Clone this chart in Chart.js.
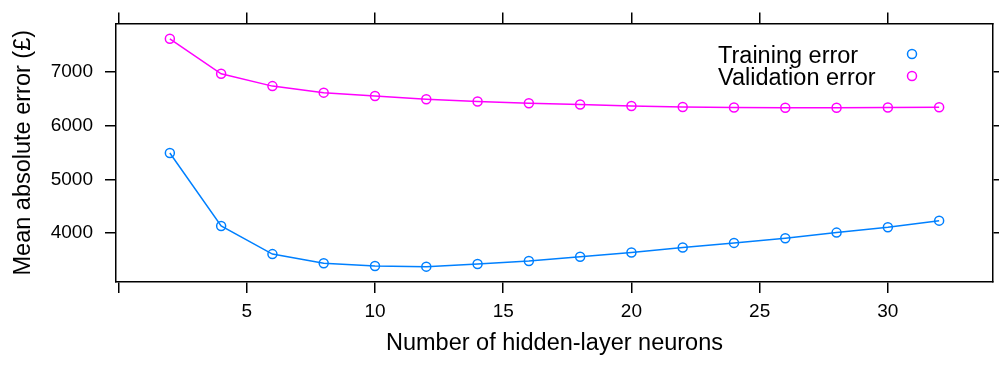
<!DOCTYPE html>
<html>
<head>
<meta charset="utf-8">
<script src="https://cdn.jsdelivr.net/npm/chart.js@4"></script>
<style>
  html, body { margin: 0; padding: 0; background: #fff; }
  #wrap { width: 999px; height: 365px; position: relative; }
</style>
</head>
<body>
<div id="wrap"><canvas id="errChart"></canvas></div>
<script>
const neurons = [2, 4, 6, 8, 10, 12, 14, 16, 18, 20, 22, 24, 26, 28, 30, 32];
const trainingError = [5490, 4134, 3613, 3442, 3392, 3380, 3429, 3484, 3564, 3644, 3736, 3821, 3908, 4012, 4110, 4234];
const validationError = [7609, 6959, 6731, 6610, 6547, 6486, 6444, 6413, 6389, 6363, 6344, 6333, 6330, 6330, 6333, 6339];
const xTicks = [0, 5, 10, 15, 20, 25, 30];
const yTicks = [4000, 5000, 6000, 7000];
const seriesLabels = ["Training error", "Validation error"];
const seriesColors = ["#0080ff", "#ff00ff"];

const FONT = "'Liberation Sans', Arial, sans-serif";

const toPoints = (vals) => vals.map((v, i) => ({ x: neurons[i], y: v }));

// lattice style key: text on the left, symbol on the right
const keyPlugin = {
    id: "latticeKey",
    afterDraw(chart) {
        const ctx = chart.ctx;
        ctx.save();
        ctx.font = `23.5px ${FONT}`;
        ctx.textBaseline = "alphabetic";
        ctx.textAlign = "left";
        chart.data.datasets.forEach((ds, i) => {
            const y = 63 + i * 22;
            ctx.fillStyle = "#000";
            ctx.fillText(ds.label, 718, y);
            ctx.beginPath();
            ctx.arc(912, y - 9, 4.5, 0, Math.PI * 2);
            ctx.strokeStyle = ds.borderColor;
            ctx.lineWidth = 1.5;
            ctx.stroke();
        });
        ctx.restore();
    }
};

const axisGrid = { drawOnChartArea: false, drawTicks: true, tickLength: 11, color: "#000", lineWidth: 1.5 };
const axisBorder = { display: true, color: "#000", width: 1.5 };

new Chart(document.getElementById("errChart").getContext("2d"), {
    type: "line",
    data: {
        datasets: [trainingError, validationError].map((vals, i) => ({
            label: seriesLabels[i],
            data: toPoints(vals),
            borderColor: seriesColors[i],
            backgroundColor: "transparent",
            borderWidth: 1.5,
            pointRadius: 4.5,
            pointBorderWidth: 1.5,
            pointBackgroundColor: "transparent",
            pointBorderColor: seriesColors[i],
            tension: 0
        }))
    },
    options: {
        responsive: true,
        maintainAspectRatio: false,
        animation: false,
        layout: { padding: 0 },
        plugins: { legend: { display: false }, tooltip: { enabled: false } },
        scales: {
            x: {
                type: "linear",
                position: "bottom",
                min: -0.1,
                max: 34.1,
                afterBuildTicks: (s) => { s.ticks = xTicks.map((v) => ({ value: v })); },
                afterFit: (s) => { s.height = 83; },
                ticks: {
                    color: "#000",
                    font: { family: FONT, size: 19 },
                    padding: 7,
                    maxRotation: 0,
                    callback: (v) => (v === 0 ? "" : String(v))
                },
                grid: axisGrid,
                border: axisBorder,
                title: {
                    display: true,
                    text: "Number of hidden-layer neurons",
                    color: "#000",
                    font: { family: FONT, size: 23.5 },
                    padding: { top: 0, bottom: 7 }
                }
            },
            x2: {
                type: "linear",
                position: "top",
                min: -0.1,
                max: 34.1,
                afterBuildTicks: (s) => { s.ticks = xTicks.map((v) => ({ value: v })); },
                afterFit: (s) => { s.height = 21; },
                ticks: { display: false },
                grid: axisGrid,
                border: axisBorder
            },
            y: {
                type: "linear",
                position: "left",
                min: 3095,
                max: 7895,
                afterBuildTicks: (s) => { s.ticks = yTicks.map((v) => ({ value: v })); },
                afterFit: (s) => { s.width = 116; },
                ticks: {
                    color: "#000",
                    font: { family: FONT, size: 19 },
                    padding: 12,
                    callback: (v) => String(v)
                },
                grid: axisGrid,
                border: axisBorder,
                title: {
                    display: true,
                    text: "Mean absolute error (£)",
                    color: "#000",
                    font: { family: FONT, size: 23.5 },
                    padding: { top: 9, bottom: 0 }
                }
            },
            y2: {
                type: "linear",
                position: "right",
                min: 3095,
                max: 7895,
                afterBuildTicks: (s) => { s.ticks = yTicks.map((v) => ({ value: v })); },
                afterFit: (s) => { s.width = 2; },
                ticks: { display: false },
                grid: axisGrid,
                border: axisBorder
            }
        }
    },
    plugins: [keyPlugin]
});
</script>
</body>
</html>
